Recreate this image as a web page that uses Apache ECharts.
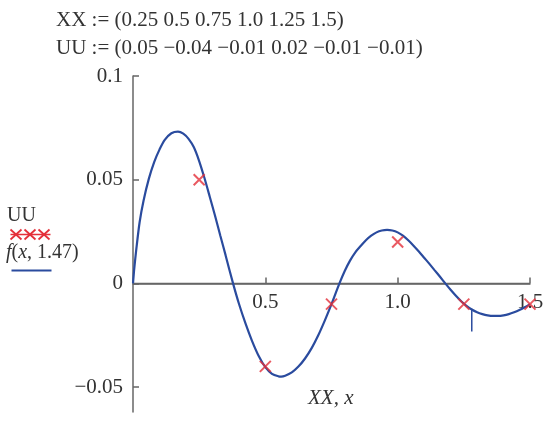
<!DOCTYPE html>
<html>
<head>
<meta charset="utf-8">
<script src="https://cdn.jsdelivr.net/npm/echarts@6/dist/echarts.min.js"></script>
<style>
  html, body { margin: 0; padding: 0; background: #fff; }
  #chart { width: 550px; height: 421px; }
</style>
</head>
<body>
<div id="chart"></div>
<script>
// measured points XX / UU
const XX = [0.25, 0.5, 0.75, 1.0, 1.25, 1.5];
const UU = [0.05, -0.04, -0.01, 0.02, -0.01, -0.01];

// f(x, 1.47)
const curveX = [0, 0.005, 0.0125, 0.025, 0.04, 0.06, 0.08, 0.10, 0.12, 0.145, 0.17, 0.19, 0.21, 0.23, 0.25, 0.27, 0.29, 0.31, 0.33, 0.35, 0.378,
  0.40, 0.425, 0.45, 0.475, 0.50, 0.525, 0.55, 0.56, 0.575, 0.60, 0.625, 0.65, 0.675, 0.70, 0.725, 0.75, 0.78,
  0.80, 0.82, 0.84, 0.86, 0.88, 0.90, 0.92, 0.94, 0.96, 0.98, 1.0, 1.02, 1.04, 1.06, 1.08, 1.10, 1.12, 1.14, 1.16, 1.18,
  1.20, 1.22, 1.24, 1.26, 1.28, 1.30, 1.32, 1.34, 1.36, 1.38, 1.40, 1.42, 1.44, 1.46, 1.48, 1.50];
const curveY = [0, 0.0075, 0.0165, 0.0295, 0.0400, 0.0505, 0.0585, 0.0645, 0.0692, 0.0724, 0.0732, 0.0722, 0.0697, 0.0656, 0.0590, 0.0508, 0.0418, 0.0326, 0.0230, 0.0135, 0,
  -0.0097, -0.0193, -0.0278, -0.0350, -0.0404, -0.0436, -0.0448, -0.0449, -0.0445, -0.0429, -0.0401, -0.0362, -0.0312, -0.0250, -0.0178, -0.0100, 0,
  0.0060, 0.0110, 0.0150, 0.0180, 0.0208, 0.0230, 0.0246, 0.0255, 0.0258, 0.0255, 0.0246, 0.0230, 0.0208, 0.0182, 0.0154, 0.0124, 0.0094, 0.0063, 0.0032, 0,
  -0.0031, -0.0060, -0.0086, -0.0108, -0.0126, -0.0139, -0.0148, -0.0154, -0.0157, -0.0157, -0.0154, -0.0148, -0.0139, -0.0128, -0.0115, -0.0100];

// little trace cursor under the curve
const cursorX = [1.28, 1.28];
const cursorY = [-0.0122, -0.0232];

// zero line, drawn as the horizontal axis
const zeroX = [0, 1.5];
const zeroY = [0, 0];

const xTicks = [0.5, 1.0, 1.5];
const yTicks = [-0.05, 0, 0.05, 0.1];
const yMin = -0.062, yMax = 0.1;

const serif = '"Liberation Serif", "DejaVu Serif", serif';
const blue = '#2a4b9e';
const red = '#e4303a';
const txt = '#333';
const axisGrey = '#666';

const gridTop = 76, gridBottom = 9, chartH = 421;

const fmtNum = v => (v < 0 ? '\u2212' : '') + (Number.isInteger(v) ? Math.abs(v).toFixed(1) : String(Math.abs(v)));

const chart = echarts.init(document.getElementById('chart'));

// x axis sits on y = 0, labels too
const plotH = chartH - gridTop - gridBottom;
const zeroOffset = -plotH * (0 - yMin) / (yMax - yMin);

const option = {
  backgroundColor: '#fff',
  animation: false,
  grid: { left: 133, right: 20, top: gridTop, bottom: gridBottom, containLabel: false, outerBoundsMode: 'none' },
  xAxis: {
    type: 'value',
    min: 0,
    max: 1.5,
    position: 'bottom',
    offset: zeroOffset,
    axisLine: { show: true, onZero: false, lineStyle: { color: axisGrey, width: 1.5 } },
    axisTick: { show: true, inside: true, length: 6, customValues: xTicks, lineStyle: { color: axisGrey, width: 1.5 } },
    axisLabel: {
      customValues: xTicks,
      formatter: v => v.toFixed(1),
      fontFamily: serif, fontSize: 21, color: txt, margin: 9
    },
    splitLine: { show: false }
  },
  yAxis: {
    type: 'value',
    min: yMin,
    max: yMax,
    axisLine: { show: true, onZero: false, lineStyle: { color: axisGrey, width: 1.5 } },
    axisTick: { show: true, inside: true, length: 6, customValues: yTicks, lineStyle: { color: axisGrey, width: 1.5 } },
    axisLabel: {
      customValues: yTicks,
      formatter: v => v === 0 ? '0' : (v < 0 ? '\u2212' : '') + String(Math.abs(v)),
      fontFamily: serif, fontSize: 21, color: txt, margin: 10
    },
    splitLine: { show: false }
  },
  series: [
    {
      name: 'zero',
      type: 'line',
      data: zeroX.map((x, i) => [x, zeroY[i]]),
      showSymbol: false,
      silent: true,
      lineStyle: { color: axisGrey, width: 1.5 },
      z: 1
    },
    {
      name: 'f',
      type: 'line',
      data: curveX.map((x, i) => [x, curveY[i]]),
      showSymbol: false,
      smooth: 0.3,
      lineStyle: { color: blue, width: 2.2 },
      z: 2
    },
    {
      name: 'cursor',
      type: 'line',
      data: cursorX.map((x, i) => [x, cursorY[i]]),
      showSymbol: false,
      lineStyle: { color: blue, width: 1.5 },
      z: 2
    },
    {
      name: 'UU',
      type: 'scatter',
      data: XX.map((x, i) => [x, UU[i]]),
      symbol: 'path://M0,0L10,10M10,0L0,10',
      symbolSize: 11,
      itemStyle: { color: 'none', borderColor: red, borderWidth: 2 },
      z: 3
    }
  ],
  graphic: [
    {
      type: 'text', left: 56, top: 10,
      style: { text: 'XX := (' + XX.map(fmtNum).join(' ') + ')', font: '21px ' + serif, fill: txt }
    },
    {
      type: 'text', left: 56, top: 38,
      style: { text: 'UU := (' + UU.map(fmtNum).join(' ') + ')', font: '21px ' + serif, fill: txt }
    },
    {
      type: 'text', left: 7, top: 206,
      style: { text: 'UU', font: '20px ' + serif, fill: txt }
    },
    {
      type: 'group', left: 8, top: 227,
      children: [
        { type: 'line', shape: { x1: 0, y1: 5, x2: 40, y2: 5 }, style: { stroke: red, lineWidth: 1.5 } },
        { type: 'line', shape: { x1: 0, y1: 0, x2: 11, y2: 10 }, style: { stroke: red, lineWidth: 1.8 } },
        { type: 'line', shape: { x1: 11, y1: 0, x2: 0, y2: 10 }, style: { stroke: red, lineWidth: 1.8 } },
        { type: 'line', shape: { x1: 14, y1: 0, x2: 25, y2: 10 }, style: { stroke: red, lineWidth: 1.8 } },
        { type: 'line', shape: { x1: 25, y1: 0, x2: 14, y2: 10 }, style: { stroke: red, lineWidth: 1.8 } },
        { type: 'line', shape: { x1: 28, y1: 0, x2: 39, y2: 10 }, style: { stroke: red, lineWidth: 1.8 } },
        { type: 'line', shape: { x1: 39, y1: 0, x2: 28, y2: 10 }, style: { stroke: red, lineWidth: 1.8 } }
      ]
    },
    {
      type: 'text', left: 6, top: 243,
      style: {
        text: '{i|f}({i|x}, 1.47)',
        font: '20px ' + serif, fill: txt,
        rich: { i: { fontStyle: 'italic', fontFamily: serif, fontSize: 20, fill: txt } }
      }
    },
    {
      type: 'line', left: 9, top: 268,
      shape: { x1: 0, y1: 0, x2: 40, y2: 0 },
      style: { stroke: blue, lineWidth: 2 }
    },
    {
      type: 'text', left: 308, top: 388,
      style: { text: 'XX, x', font: 'italic 21px ' + serif, fill: txt }
    }
  ]
};

chart.setOption(option);
</script>
</body>
</html>
